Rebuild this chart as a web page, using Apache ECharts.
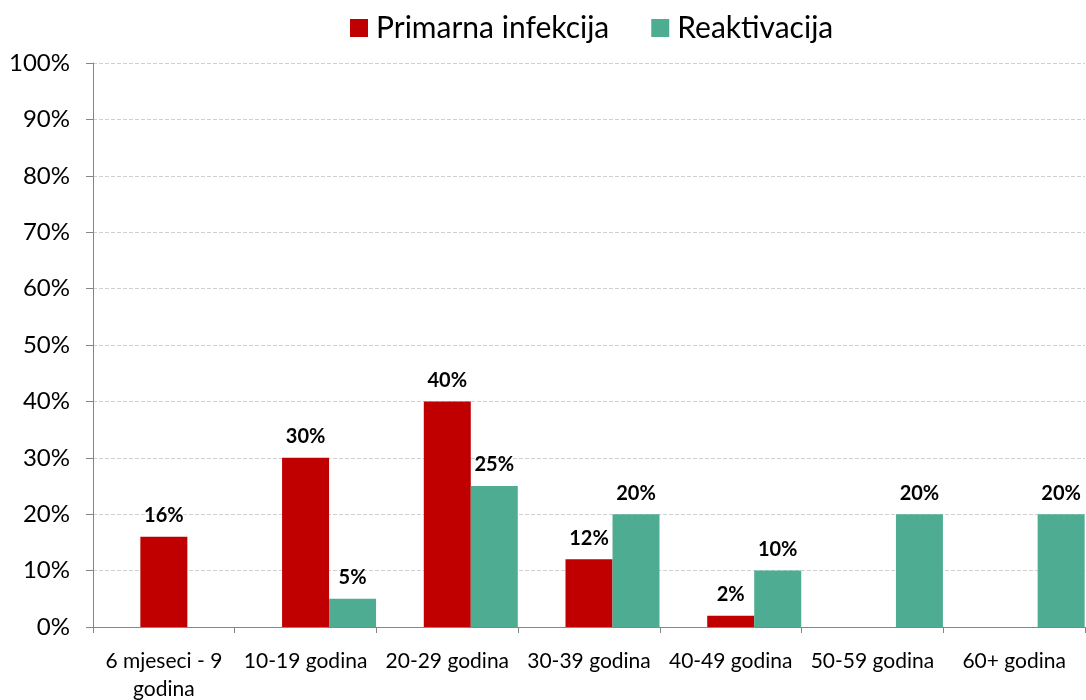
<!DOCTYPE html>
<html lang="hr">
<head>
    <meta charset="UTF-8">
    <script src="https://cdn.jsdelivr.net/npm/echarts@6/dist/echarts.min.js"></script>
    <title>Primarna infekcija / Reaktivacija</title>
    <style>
        html, body { margin: 0; padding: 0; background: #fff; }
        #chart { width: 1086px; height: 700px; }
    </style>
</head>
<body>
<div id="chart"></div>
<script>
var categories = ['6 mjeseci - 9\ngodina', '10-19 godina', '20-29 godina', '30-39 godina', '40-49 godina', '50-59 godina', '60+ godina'];
var primarna = [16, 30, 40, 12, 2, null, null];
var reaktivacija = [null, 5, 25, 20, 10, 20, 20];
// empty slot on the left of each group, as in the original
var prazno = [null, null, null, null, null, null, null];

var font = 'Lato';
var chart = echarts.init(document.getElementById('chart'));

function barLabel() {
    return {
        show: true,
        position: 'top',
        distance: 11,
        fontFamily: font,
        fontWeight: 'bold',
        fontSize: 20,
        color: '#000',
        formatter: '{c}%'
    };
}

chart.setOption({
    animation: false,
    textStyle: { fontFamily: font },
    legend: {
        top: 8,
        left: 345,
        data: ['Primarna infekcija', 'Reaktivacija'],
        itemWidth: 18,
        itemHeight: 18,
        itemGap: 42,
        icon: 'rect',
        textStyle: { fontSize: 30, color: '#000', fontFamily: font, padding: [0, 0, 0, 3] }
    },
    grid: { left: 93, right: 1, top: 63, bottom: 73, outerBoundsMode: 'none' },
    xAxis: {
        type: 'category',
        data: categories,
        axisLine: { lineStyle: { color: '#868686' } },
        axisTick: { show: true, length: 6, lineStyle: { color: '#868686' } },
        axisLabel: { fontSize: 21, color: '#000', margin: 20, lineHeight: 28, interval: 0 }
    },
    yAxis: {
        type: 'value',
        min: 0,
        max: 100,
        interval: 10,
        axisLine: { show: true, lineStyle: { color: '#868686' } },
        axisTick: { show: true, length: 7, lineStyle: { color: '#868686' } },
        axisLabel: { fontSize: 24, color: '#000', margin: 23, formatter: '{value}%' },
        splitLine: { lineStyle: { color: '#d0d0d0', type: 'dashed' } }
    },
    series: [
        {
            name: '',
            type: 'bar',
            data: prazno,
            barWidth: 47,
            barGap: '0%'
        },
        {
            name: 'Primarna infekcija',
            type: 'bar',
            data: primarna,
            barWidth: 47,
            barGap: '0%',
            itemStyle: { color: '#C00000' },
            label: barLabel()
        },
        {
            name: 'Reaktivacija',
            type: 'bar',
            data: reaktivacija,
            barWidth: 47,
            barGap: '0%',
            itemStyle: { color: '#4EAC93' },
            label: barLabel()
        }
    ]
});
</script>
</body>
</html>
